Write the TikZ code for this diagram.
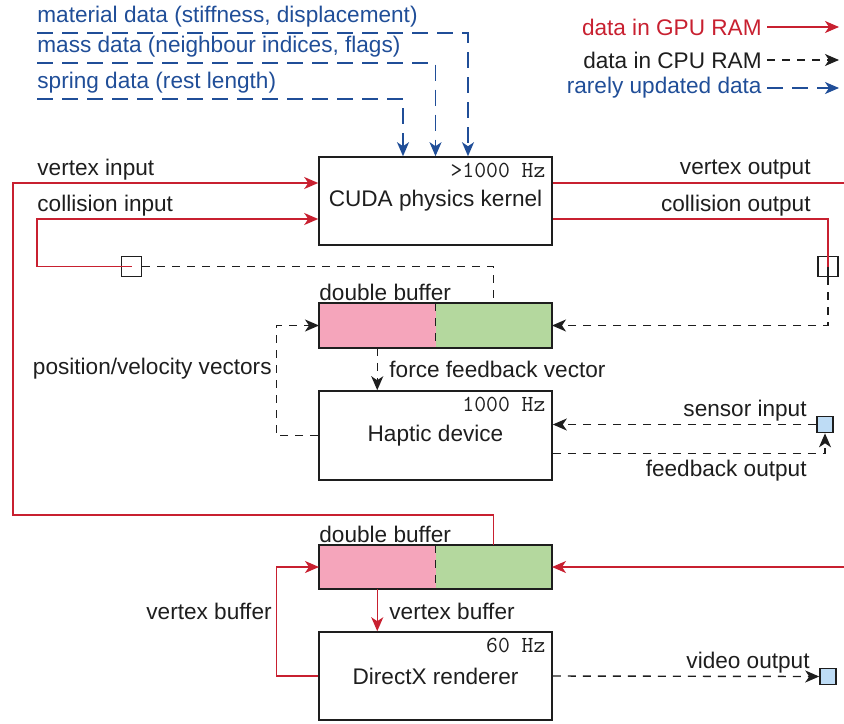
\documentclass[tikz,border=0pt]{standalone}
\usepackage{fontspec}
\setmainfont{Liberation Sans}
\usetikzlibrary{arrows.meta,positioning}
\definecolor{ink}{RGB}{30,30,30}
\definecolor{gpured}{RGB}{200,32,48}
\definecolor{rareblue}{RGB}{32,78,152}
\definecolor{bufpink}{RGB}{245,165,187}
\definecolor{bufgreen}{RGB}{180,216,158}
\definecolor{portblue}{RGB}{190,220,245}
% rate label in the upper right corner of a unit
\newcommand*{\ratenode}[2]{\node[ratelbl,anchor=east] at ([xshift=-3.5pt,yshift=-7pt]#1.north east) {#2};}
% double buffer: two halves #1L and #1R, centred at height #2
\newcommand*{\dbuf}[2]{%
\node[half,fill=bufpink] (#1L) at (377.25,#2) {};
\node[half,fill=bufgreen,right=0pt of #1L] (#1R) {};
\draw[ink,line width=0.8pt] (#1L.north west) rectangle (#1R.south east);
\draw[cpu] (#1L.north east) -- (#1L.south east);
\node[txt,anchor=south west,inner xsep=0pt,inner ysep=1pt] at (#1L.north west) {double buffer};}

\begin{document}
\begin{tikzpicture}[x=0.5pt,y=-0.5pt,
  txt/.style={font=\fontsize{11.3}{13}\selectfont,text=ink},
  ratelbl/.style={font=\ttfamily\fontsize{11.5}{13}\selectfont,text=ink,inner sep=0pt},
  unit/.style={txt,draw=ink,line width=0.8pt,minimum width=116.5pt,minimum height=44pt},
  half/.style={minimum width=58.25pt,minimum height=22.25pt,inner sep=0pt,outer sep=0pt},
  port/.style={draw=ink,line width=0.8pt,minimum size=10pt,inner sep=0pt},
  sensor/.style={port,fill=portblue,minimum size=8pt},
  datalbl/.style={txt,text=rareblue,anchor=south west,inner xsep=0pt,inner ysep=2.5pt,text depth=2.5pt},
  gpu/.style={gpured,line width=0.7pt},
  cpu/.style={ink,line width=0.7pt,dash pattern=on 4pt off 3.5pt},
  rare/.style={rareblue,line width=0.7pt,dash pattern=on 8pt off 4.5pt},
  >={Stealth[length=7pt,width=6pt,inset=2pt]}]
\useasboundingbox (0,0) rectangle (844,723);

% Units
\node[unit] (cuda) at (435.5,201) {CUDA physics kernel};
\ratenode{cuda}{>1000 Hz}
\node[unit,minimum height=44.5pt] (haptic) at (435.5,435.5) {Haptic device};
\ratenode{haptic}{1000 Hz}
\node[unit] (dx) at (435.5,676) {DirectX renderer};
\ratenode{dx}{60 Hz}
\dbuf{bufA}{325.5}
\dbuf{bufB}{567}

% Ports
\node[port] (sqL) at (131.5,266.5) {};
\node[port] (sqR) at (828,266.5) {};
\node[sensor] (sensin) at (825,424.5) {};
\node[sensor] (video) at (828,676.5) {};
\coordinate (vtxturn) at (13,515);
\coordinate (colturn) at (37,266.5);
\coordinate (vtxout) at (844,183);
\coordinate (bufin) at (844,567);

% Rarely updated data
\node[datalbl] (matdata) at (37,33) {material data (stiffness, displacement)};
\node[datalbl] (massdata) at (37,63) {mass data (neighbour indices, flags)};
\node[datalbl] (springdata) at (37,99) {spring data (rest length)};
\draw[rare,->] (matdata.south west) -| ([xshift=16.25pt]cuda.north);
\draw[rare,->] (massdata.south west) -| (cuda.north);
\draw[rare,->] (springdata.south west) -| ([xshift=-16.25pt]cuda.north);

% Legend
\node[txt,text=gpured,anchor=east,inner xsep=2.5pt] (leggpu) at (767,27) {data in GPU RAM};
\node[txt,anchor=east,inner xsep=2.5pt] (legcpu) at (767,60) {data in CPU RAM};
\node[txt,text=rareblue,anchor=east,inner xsep=2.5pt] (legrare) at (767,88) {rarely updated data};
\draw[gpu,->] (leggpu.east) -- ++(72,0);
\draw[cpu,->] (legcpu.east) -- ++(72,0);
\draw[rare,->] (legrare.east) -- ++(72,0);

% Physics kernel inputs and outputs
\draw[gpu,->] (bufBR.north) |- (vtxturn) |- ([yshift=9pt]cuda.west);
\draw[gpu,->] (sqL.center) -- (colturn) |- ([yshift=-9pt]cuda.west);
\draw[gpu] ([yshift=9pt]cuda.east) -- (vtxout);
\draw[gpu] ([yshift=-9pt]cuda.east) -| (sqR.center);
\draw[ink,line width=0.7pt] (sqR.center) -- (sqR.south);
\draw[cpu,->] (sqR.south) |- (bufAR.east);
\draw[cpu] (sqL.east) -| (bufAR.north);
\node[txt,anchor=west,inner xsep=0pt] at (37,170) {vertex input};
\node[txt,anchor=west,inner xsep=0pt] at (37,206) {collision input};
\node[txt,anchor=east,inner xsep=0pt] at (811,170) {vertex output};
\node[txt,anchor=east,inner xsep=0pt] at (811,206) {collision output};

% Haptic loop
\draw[cpu,->] (haptic.west) -- ++(-42,0) |- (bufAL.west);
\draw[cpu,->] (bufAL.south) -- (bufAL.south |- haptic.north);
\draw[cpu,->] (sensin.west) -- (sensin.west -| haptic.east);
\draw[cpu,->] ([yshift=-9pt]haptic.east) -| (sensin.south);
\node[txt,anchor=east,inner xsep=0pt] at (272,369) {position/velocity vectors};
\node[txt,anchor=west,inner xsep=0pt] at (389,369) {force feedback vector};
\node[txt,anchor=east,inner xsep=0pt] at (807,411) {sensor input};
\node[txt,anchor=east,inner xsep=0pt] at (807,471) {feedback output};

% Renderer loop
\draw[gpu,->] (bufin) -- (bufBR.east);
\draw[gpu,->] (dx.west) -- ++(-42,0) |- (bufBL.west);
\draw[gpu,->] (bufBL.south) -- (bufBL.south |- dx.north);
\draw[cpu,->] (dx.east) -- (video.west);
\node[txt,anchor=east,inner xsep=0pt] at (272,611) {vertex buffer};
\node[txt,anchor=west,inner xsep=0pt] at (389,611) {vertex buffer};
\node[txt,anchor=east,inner xsep=0pt] at (810,663) {video output};
\end{tikzpicture}
\end{document}
